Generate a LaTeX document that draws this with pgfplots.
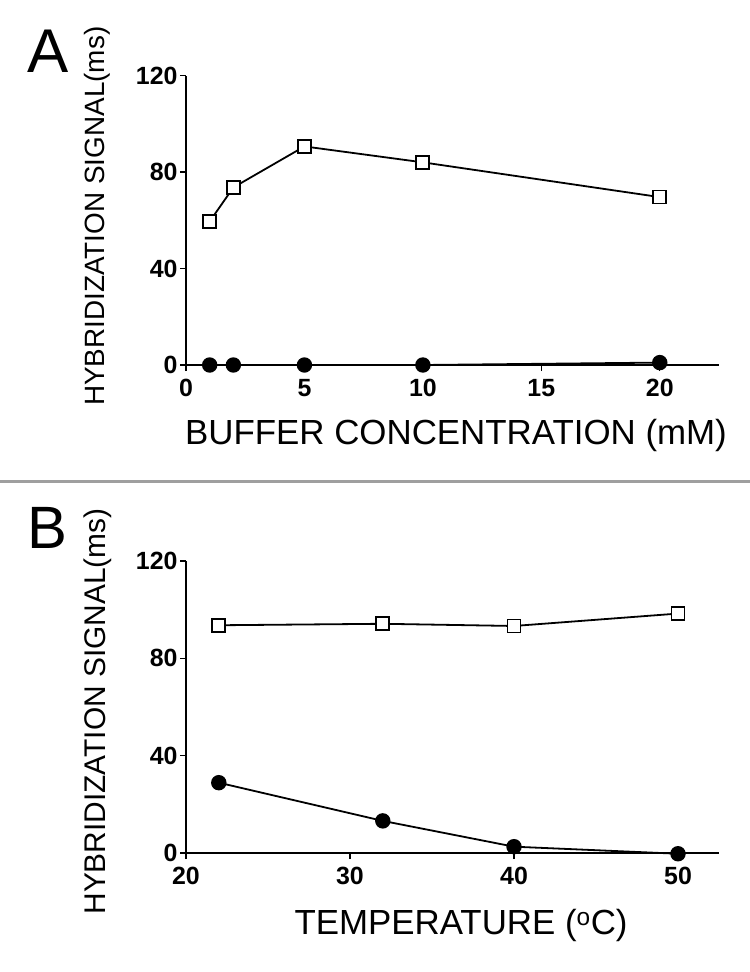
\documentclass[border=0pt]{standalone}
\usepackage{pgfplots}
\pgfplotsset{compat=1.18}
\usepackage{fontspec}
\setmainfont{Liberation Sans}
\pgfplotsset{
  myaxis/.style={
    scale only axis,
    anchor=south west,
    width=533bp,
    axis x line*=bottom,
    axis y line*=left,
    axis line style={black, line width=1.8bp},
    tick style={black, line width=1.4bp},
    tick align=outside,
    major tick length=6bp,
    ymin=0, ymax=120,
    ytick={0,40,80,120},
    /pgf/number format/assume math mode=true,
    ticklabel style={font=\fontsize{25}{25}\selectfont\bfseries},
    xticklabel style={yshift=-5bp},
    yticklabel style={xshift=1bp},
    clip=false,
    every axis plot/.append style={black, line width=1.8bp},
  },
  sq/.style={mark=square*, mark size=6.5bp, mark options={fill=white, draw=black, line width=1.8bp, solid}},
  ci/.style={mark=*, mark size=6.8bp, mark options={fill=black, draw=black, solid}},
}
\begin{document}
\begin{tikzpicture}
\useasboundingbox (0bp,0bp) rectangle (750bp,-972bp);
\draw[gray!75, line width=3bp] (0bp,-481bp) -- (750bp,-481bp);
\node[anchor=base west, inner sep=0, font=\fontsize{62}{62}\selectfont] at (27bp,-72bp) {A};
\node[anchor=base west, inner sep=0, font=\fontsize{60}{60}\selectfont] at (27bp,-548bp) {B};

\begin{axis}[myaxis, at={(186bp,-365bp)}, height=289.5bp,
  xmin=0, xmax=22.5, xtick={0,5,10,15,20},
  xlabel={BUFFER CONCENTRATION (mM)},
  xlabel style={at={(axis description cs:0.5066,-0.1865)}, anchor=north, inner sep=0, font=\fontsize{35}{35}\selectfont},
  ylabel={HYBRIDIZATION SIGNAL(ms)},
  ylabel style={at={(axis description cs:-0.1426,0.514)}, anchor=south, inner sep=0, font=\fontsize{28}{28}\selectfont},
]
\addplot[ci] coordinates {(1,0) (2,0) (5,0) (10,0) (20,1)};
\addplot[sq] coordinates {(1,59.5) (2,73.6) (5,90.6) (10,84) (20,69.6)};
\end{axis}

\begin{axis}[myaxis, at={(186bp,-853bp)}, height=292bp,
  xmin=20, xmax=52.5, xtick={20,30,40,50},
  xlabel={TEMPERATURE ($^{\mathrm{o}}$C)},
  xlabel style={at={(axis description cs:0.516,-0.192)}, anchor=north, inner sep=0, font=\fontsize{35}{35}\selectfont},
  ylabel={HYBRIDIZATION SIGNAL(ms)},
  ylabel style={at={(axis description cs:-0.139,0.485)}, anchor=south, inner sep=0, font=\fontsize{30}{30}\selectfont},
]
\addplot[sq] coordinates {(22,93.6) (32,94.2) (40,93.3) (50,98.4)};
\addplot[ci] coordinates {(22,28.9) (32,13.2) (40,2.6) (50,-0.3)};
\end{axis}
\end{tikzpicture}
\end{document}
